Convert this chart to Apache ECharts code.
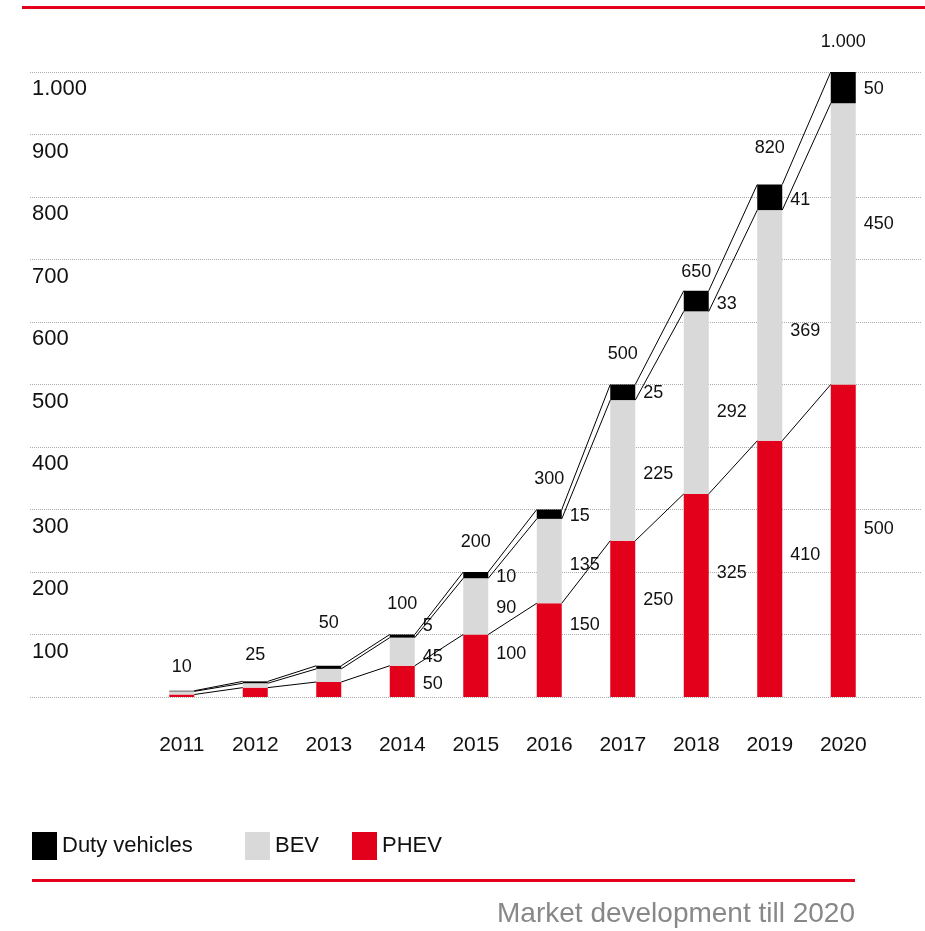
<!DOCTYPE html>
<html>
<head>
<meta charset="utf-8">
<script src="https://cdn.jsdelivr.net/npm/echarts@6/dist/echarts.min.js"></script>
<style>
  html, body { margin: 0; padding: 0; background: #fff; }
  #chart { width: 925px; height: 931px; }
</style>
</head>
<body>
<div id="chart"></div>
<script>
// market data (thousand units)
const years = ['2011', '2012', '2013', '2014', '2015', '2016', '2017', '2018', '2019', '2020'];
const phev = [4, 15, 24, 50, 100, 150, 250, 325, 410, 500];
const bev = [5, 7, 21, 45, 90, 135, 225, 292, 369, 450];
const duty = [1, 3, 5, 5, 10, 15, 25, 33, 41, 50];
const totals = [10, 25, 50, 100, 200, 300, 500, 650, 820, 1000];
const yTicks = [0, 100, 200, 300, 400, 500, 600, 700, 800, 900, 1000];

// label nudges (px, vertical) so labels sit like the original
const phevDy = [0, 0, 0, 3, -12, -25, -19, -22, -14, -12];
const bevDy = [0, 0, 0, 5, 2, 4, 4, 9, 6, -20];
const dutyDy = [0, 0, 0, -10, 2, 2, 1, 3, 3, 1];
const totalDy = [6, 4, -13, 0, 0, 0, 0, 11, -6, 0];

const RED = '#e2001a';
const GREY = '#d9d9d9';
const FONT = "'Liberation Sans', Arial, sans-serif";
const BAR_W = 25;
const labelFrom = 3; // segment labels start at 2014

const fmtThousand = v => v >= 1000 ? Math.floor(v / 1000) + '.' + String(v % 1000).padStart(3, '0') : String(v);

// cumulative levels for the connector lines
const lvlRed = phev.slice();
const lvlGrey = phev.map((v, i) => v + bev[i]);
const lvlTop = lvlGrey.map((v, i) => v + duty[i]);
const connectors = [];
[lvlRed, lvlGrey, lvlTop].forEach(lvl => {
  for (let i = 0; i < lvl.length - 1; i++) connectors.push([i, lvl[i], lvl[i + 1]]);
});

const myChart = echarts.init(document.getElementById('chart'));

function segData(values, dy) {
  return values.map((v, i) => ({
    value: v,
    label: { show: i >= labelFrom, offset: [0, dy[i]] }
  }));
}

const segLabel = {
  show: true,
  position: 'right',
  distance: 8,
  color: '#111',
  fontFamily: FONT,
  fontSize: 18,
  formatter: p => fmtThousand(p.value)
};

const option = {
  animation: false,
  backgroundColor: '#fff',
  textStyle: { fontFamily: FONT },
  grid: [
    { left: 30, right: 4, top: 72, bottom: 234 },
    { left: 145, right: 45, top: 72, bottom: 234 }
  ],
  legend: [
    { left: 32, top: 832, data: ['Duty vehicles'] },
    { left: 245, top: 832, data: ['BEV'] },
    { left: 352, top: 832, data: ['PHEV'] }
  ].map(l => Object.assign(l, {
    icon: 'rect', itemWidth: 25, itemHeight: 28, itemGap: 8, padding: 0,
    selectedMode: false,
    textStyle: { fontFamily: FONT, fontSize: 22, color: '#111' }
  })),
  xAxis: [
    { gridIndex: 0, type: 'value', show: false, min: 0, max: 1 },
    {
      gridIndex: 1, type: 'category', data: years,
      axisLine: { show: false }, axisTick: { show: false },
      axisLabel: { color: '#111', fontFamily: FONT, fontSize: 21, margin: 38 }
    }
  ],
  yAxis: [
    {
      gridIndex: 0, type: 'value', min: yTicks[0], max: yTicks[yTicks.length - 1], interval: 100,
      axisLine: { show: false }, axisTick: { show: false },
      splitLine: { show: true, lineStyle: { color: '#aaa', type: [1, 1], width: 1 } },
      axisLabel: {
        inside: true, margin: 2, align: 'left', verticalAlign: 'top', padding: [6, 0, 0, 0],
        color: '#111', fontFamily: FONT, fontSize: 22,
        formatter: v => v === 0 ? '' : fmtThousand(v)
      }
    },
    {
      gridIndex: 1, type: 'value', min: 0, max: 1000, interval: 100, show: false
    }
  ],
  series: [
    {
      name: 'PHEV', type: 'bar', stack: 'a', xAxisIndex: 1, yAxisIndex: 1,
      barWidth: BAR_W, itemStyle: { color: RED }, data: segData(phev, phevDy),
      label: segLabel
    },
    {
      name: 'BEV', type: 'bar', stack: 'a', xAxisIndex: 1, yAxisIndex: 1,
      barWidth: BAR_W, itemStyle: { color: GREY }, data: segData(bev, bevDy),
      label: segLabel
    },
    {
      name: 'Duty vehicles', type: 'bar', stack: 'a', xAxisIndex: 1, yAxisIndex: 1,
      barWidth: BAR_W, itemStyle: { color: '#000' }, data: segData(duty, dutyDy),
      label: segLabel
    },
    {
      name: 'totals', type: 'scatter', xAxisIndex: 1, yAxisIndex: 1,
      symbolSize: 0, z: 5, itemStyle: { opacity: 1 },
      data: totals.map((v, i) => ({ value: v, label: { offset: [0, totalDy[i]] } })),
      label: {
        show: true, position: 'top', distance: 21,
        color: '#111', fontFamily: FONT, fontSize: 18,
        formatter: p => fmtThousand(p.value)
      }
    },
    {
      name: 'connectors', type: 'custom', xAxisIndex: 1, yAxisIndex: 1,
      clip: false, z: 4, data: connectors,
      encode: { x: 0, y: 1 },
      renderItem: (params, api) => {
        const i = api.value(0);
        const p0 = api.coord([i, api.value(1)]);
        const p1 = api.coord([i + 1, api.value(2)]);
        const half = BAR_W / 2;
        return {
          type: 'line',
          shape: { x1: p0[0] + half, y1: p0[1], x2: p1[0] - half, y2: p1[1] },
          style: { stroke: '#000', lineWidth: 1 }
        };
      }
    }
  ],
  graphic: [
    { type: 'rect', left: 22, top: 6, shape: { width: 903, height: 3 }, style: { fill: RED } },
    { type: 'rect', left: 32, top: 879, shape: { width: 823, height: 3 }, style: { fill: RED } },
    {
      type: 'text', right: 70, top: 900,
      style: { text: 'Market development till 2020', fill: '#888', font: "28px " + FONT }
    }
  ]
};

myChart.setOption(option);
window.addEventListener('resize', () => { myChart.resize(); });
</script>
</body>
</html>
